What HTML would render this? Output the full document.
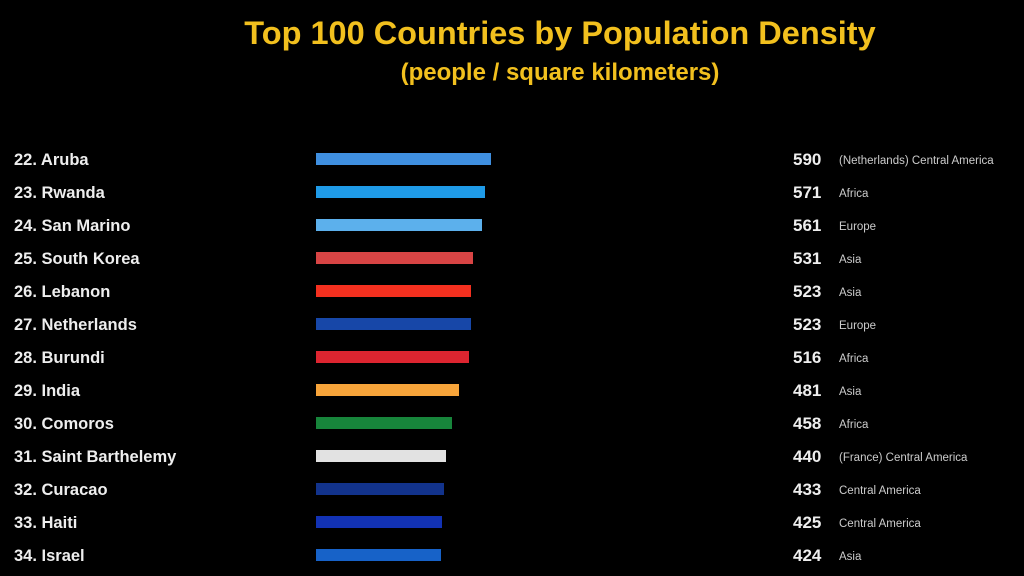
<!DOCTYPE html>
<html><head><style>
body{margin:0;width:1024px;height:576px;background:#000;overflow:hidden;font-family:"Liberation Sans",sans-serif;position:relative}
.t{position:absolute;left:0;width:1120px;text-align:center;color:#f2c01e;font-weight:bold}
.n{position:absolute;left:14px;color:#eee;font-weight:bold;font-size:16.5px;line-height:18px}
.b{position:absolute;left:316px;height:12px}
.v{position:absolute;left:793px;color:#eee;font-weight:bold;font-size:17px;line-height:18px}
.r{position:absolute;left:839px;color:#ccc;font-size:11.5px;line-height:18px}
</style></head><body>
<div class="t" style="top:15px;font-size:32.5px">Top 100 Countries by Population Density</div>
<div class="t" style="top:59px;font-size:24px">(people / square kilometers)</div>
<div id="c"></div>
<script>
const d=[["22. Aruba",491,"#3f8fe0",590,"(Netherlands) Central America"],["23. Rwanda",485,"#1f9be8",571,"Africa"],["24. San Marino",482,"#5cb0ec",561,"Europe"],["25. South Korea",473,"#d84444",531,"Asia"],["26. Lebanon",471,"#f4301f",523,"Asia"],["27. Netherlands",471,"#1747a8",523,"Europe"],["28. Burundi",469,"#dd2530",516,"Africa"],["29. India",459,"#f7a43a",481,"Asia"],["30. Comoros",452,"#17853b",458,"Africa"],["31. Saint Barthelemy",446,"#e2e2e2",440,"(France) Central America"],["32. Curacao",444,"#12338c",433,"Central America"],["33. Haiti",442,"#1232b4",425,"Central America"],["34. Israel",441,"#1762c8",424,"Asia"]];
let h="";d.forEach((r,i)=>{const y=159+i*33;
h+=`<div class="n" style="top:${y-8}px">${r[0]}</div><div class="b" style="top:${y-6}px;width:${r[1]-316}px;background:${r[2]}"></div><div class="v" style="top:${y-8}px">${r[3]}</div><div class="r" style="top:${y-7}px">${r[4]}</div>`});
document.getElementById("c").innerHTML=h;
</script>
</body></html>
